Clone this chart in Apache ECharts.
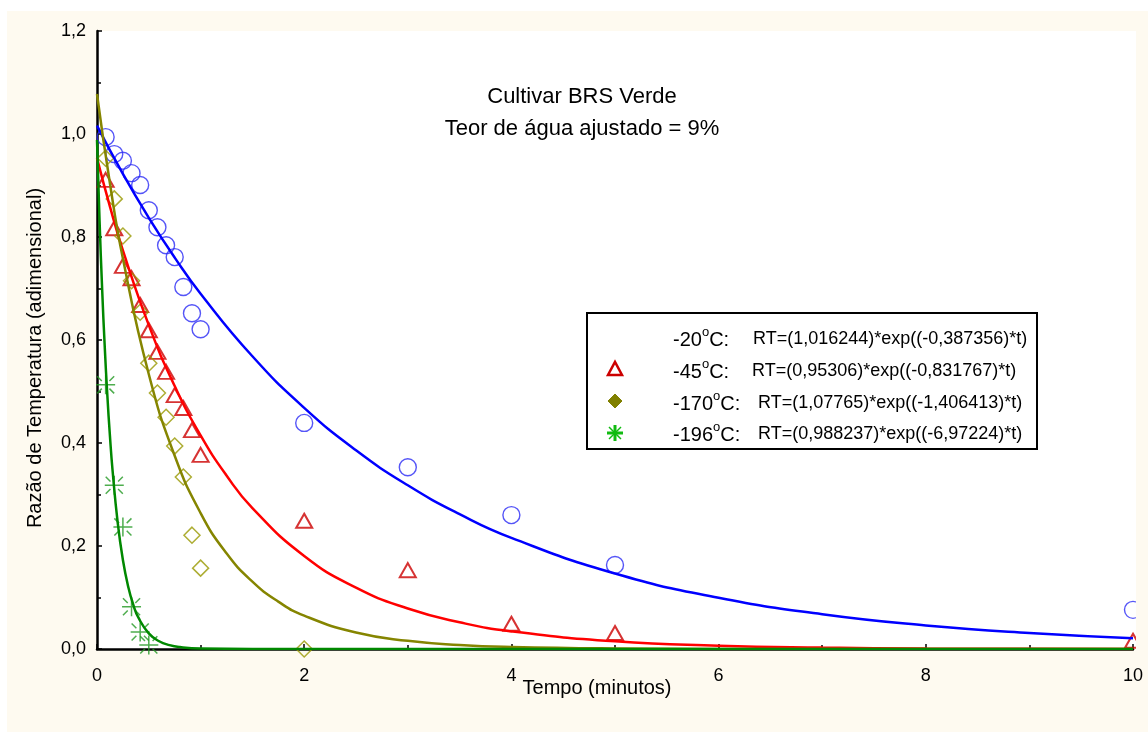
<!DOCTYPE html>
<html>
<head>
<meta charset="utf-8">
<script src="https://cdn.jsdelivr.net/npm/echarts@6/dist/echarts.min.js"></script>
<style>html,body{margin:0;padding:0;background:#fff}#c{width:1148px;height:732px}</style>
</head>
<body>
<div id="c"></div>
<script>
// Observed times (minutes)
const obsTimes = [0.0833, 0.1667, 0.25, 0.3333, 0.4167, 0.5, 0.5833, 0.6667, 0.75, 0.8333, 0.9167, 1, 2, 3, 4, 5, 10];
// Observed RT values
const obs20  = [0.994, 0.961, 0.948, 0.924, 0.901, 0.852, 0.819, 0.784, 0.761, 0.703, 0.652, 0.621, 0.439, 0.353, 0.260, 0.163, 0.076];
const obs45  = [0.911, 0.817, 0.744, 0.720, 0.668, 0.619, 0.577, 0.538, 0.493, 0.468, 0.425, 0.377, 0.249, 0.153, 0.049, 0.031, 0.016];
const obs170 = [0.953, 0.874, 0.802, 0.715, 0.654, 0.555, 0.497, 0.450, 0.394, 0.334, 0.221, 0.157, 0.000];
const obs196 = [0.513, 0.318, 0.237, 0.082, 0.033, 0.008];
// Fitted curves
const fitT20  = [0, 0.25, 0.5, 0.75, 1, 1.5, 2, 2.5, 3, 3.5, 4, 5, 6, 7, 8, 9, 10];
const fit20   = [1.0162, 0.9224, 0.8373, 0.7600, 0.6899, 0.5684, 0.4683, 0.3859, 0.3179, 0.2619, 0.2158, 0.1465, 0.0995, 0.0675, 0.0458, 0.0311, 0.0211];
const fitT45  = [0, 0.125, 0.25, 0.5, 0.75, 1, 1.25, 1.5, 2, 2.5, 3, 3.5, 4, 5, 6, 7, 8, 10];
const fit45   = [0.9531, 0.8590, 0.7741, 0.6288, 0.5107, 0.4148, 0.3370, 0.2737, 0.1806, 0.1191, 0.0786, 0.0519, 0.0342, 0.0149, 0.0065, 0.0028, 0.0012, 0.0002];
const fitT170 = [0, 0.125, 0.25, 0.5, 0.75, 1, 1.25, 1.5, 1.75, 2, 2.5, 3, 3.5, 4, 5, 6, 8, 10];
const fit170  = [1.0777, 0.9039, 0.7582, 0.5334, 0.3753, 0.2640, 0.1858, 0.1307, 0.0920, 0.0647, 0.0320, 0.0159, 0.0078, 0.0039, 0.0010, 0.0002, 0.0000, 0.0000];
const fitT196 = [0, 0.025, 0.05, 0.075, 0.1, 0.125, 0.15, 0.2, 0.25, 0.3, 0.35, 0.4, 0.5, 0.6, 0.7, 0.8, 1, 1.5, 2, 10];
const fit196  = [0.9882, 0.8302, 0.6974, 0.5858, 0.4921, 0.4134, 0.3473, 0.2451, 0.1729, 0.1220, 0.0861, 0.0608, 0.0303, 0.0151, 0.0075, 0.0037, 0.0009, 0.0000, 0.0000, 0.0000];
// Texts
const titleLines = ['Cultivar BRS Verde', 'Teor de água ajustado = 9%'];
const xName = 'Tempo (minutos)';
const yName = 'Razão de Temperatura (adimensional)';
const legendTemps = ['-20', '-45', '-170', '-196'];
const legendEqs = ['RT=(1,016244)*exp((-0,387356)*t)', 'RT=(0,95306)*exp((-0,831767)*t)', 'RT=(1,07765)*exp((-1,406413)*t)', 'RT=(0,988237)*exp((-6,97224)*t)'];

const pairs = (xs, ys) => ys.map((y, i) => [xs[i], y]);
const FONT = '"Liberation Sans", Arial, sans-serif';
const starPath = 'path://M-10,0L10,0M0,-10L0,10M4,4L9,9M-4,-4L-9,-9M4,-4L9,-9M-4,4L-9,9';

const chart = echarts.init(document.getElementById('c'), null, {renderer: 'canvas'});

const rowY = [338, 370, 402, 433];
const eqX = [753, 752, 758, 758];
const legendEls = [
  {type: 'rect', shape: {x: 587, y: 313, width: 450, height: 136}, style: {fill: '#fff', stroke: '#000', lineWidth: 2}, z: 20},
  {type: 'polygon', shape: {points: [[608, 375], [622, 375], [615, 362]]}, style: {fill: 'none', stroke: '#cc0000', lineWidth: 2.5}, z: 21},
  {type: 'polygon', shape: {points: [[615, 394], [622, 401], [615, 408], [608, 401]]}, style: {fill: '#808000', stroke: '#808000', lineWidth: 1}, z: 21},
  {type: 'line', shape: {x1: 607, y1: 433, x2: 623, y2: 433}, style: {stroke: '#11bb11', lineWidth: 3}, z: 21},
  {type: 'line', shape: {x1: 615, y1: 425, x2: 615, y2: 441}, style: {stroke: '#11bb11', lineWidth: 3}, z: 21},
  {type: 'line', shape: {x1: 609, y1: 427, x2: 621, y2: 439}, style: {stroke: '#11bb11', lineWidth: 1.5}, z: 21},
  {type: 'line', shape: {x1: 621, y1: 427, x2: 609, y2: 439}, style: {stroke: '#11bb11', lineWidth: 1.5}, z: 21}
];
legendTemps.forEach((t, i) => {
  legendEls.push({
    type: 'text', x: 673, y: rowY[i], z: 21,
    style: {
      text: '{m|' + t + '}{s|o}{m|C:}',
      verticalAlign: 'middle', align: 'left',
      rich: {
        m: {fontSize: 20, fontFamily: FONT, fill: '#000', lineHeight: 24, verticalAlign: 'bottom'},
        s: {fontSize: 13, fontFamily: FONT, fill: '#000', lineHeight: 24, verticalAlign: 'top', padding: [0, 0, 0, 0]}
      }
    }
  });
  legendEls.push({
    type: 'text', x: eqX[i], y: rowY[i] + 1, z: 21,
    style: {text: legendEqs[i], fontSize: 18, fontFamily: FONT, fill: '#000', verticalAlign: 'middle', align: 'left'}
  });
});

const option = {
  animation: false,
  backgroundColor: '#fff',
  graphic: [
    {type: 'rect', shape: {x: 7, y: 11, width: 1141, height: 721}, style: {fill: '#fefaf0'}, z: -20, silent: true},
    {type: 'rect', shape: {x: 97, y: 31, width: 1039, height: 618}, style: {fill: '#fff'}, z: -19, silent: true},
    {type: 'rect', shape: {x: 1136, y: 11, width: 12, height: 648}, style: {fill: '#fefaf0'}, z: 10, silent: true},
    {type: 'text', x: 582, y: 97, style: {text: titleLines[0], fontSize: 22, fontFamily: FONT, fill: '#000', align: 'center', verticalAlign: 'middle'}, z: 5},
    {type: 'text', x: 582, y: 129, style: {text: titleLines[1], fontSize: 22, fontFamily: FONT, fill: '#000', align: 'center', verticalAlign: 'middle'}, z: 5},
    {type: 'text', x: 597, y: 688, style: {text: xName, fontSize: 20, fontFamily: FONT, fill: '#000', align: 'center', verticalAlign: 'middle'}, z: 5},
    {type: 'text', x: 35, y: 358, rotation: Math.PI / 2, style: {text: yName, fontSize: 20, fontFamily: FONT, fill: '#000', align: 'center', verticalAlign: 'middle'}, z: 5}
  ].concat(legendEls),
  grid: {left: 97, top: 31, width: 1036, height: 618, containLabel: false},
  xAxis: {
    type: 'value', min: 0, max: 10, interval: 2,
    axisLine: {show: true, lineStyle: {color: '#000', width: 2.5}},
    axisTick: {show: true, inside: true, length: 5, lineStyle: {color: '#000', width: 1.5}},
    minorTick: {show: true, splitNumber: 2, length: 4, lineStyle: {color: '#000', width: 1.5}},
    axisLabel: {fontSize: 18, fontFamily: FONT, color: '#000', margin: 18},
    splitLine: {show: false}
  },
  yAxis: {
    type: 'value', min: 0, max: 1.2, interval: 0.2,
    axisLine: {show: true, lineStyle: {color: '#000', width: 2.5}},
    axisTick: {show: true, inside: true, length: 5, lineStyle: {color: '#000', width: 1.5}},
    minorTick: {show: true, splitNumber: 2, length: 4, lineStyle: {color: '#000', width: 1.5}},
    axisLabel: {fontSize: 18, fontFamily: FONT, color: '#000', margin: 11, formatter: v => v.toFixed(1).replace('.', ',')},
    splitLine: {show: false}
  },
  series: [
    {type: 'scatter', name: '-20', data: pairs(obsTimes, obs20), symbol: 'circle', symbolSize: 17, z: 2,
      itemStyle: {color: 'rgba(0,0,0,0)', borderColor: '#2a2af5', borderWidth: 1.4}},
    {type: 'scatter', name: '-45', data: pairs(obsTimes, obs45), symbol: 'triangle', symbolSize: [16, 14], z: 2,
      itemStyle: {color: 'rgba(0,0,0,0)', borderColor: '#cc0000', borderWidth: 2}},
    {type: 'scatter', name: '-170', data: pairs(obsTimes, obs170), symbol: 'diamond', symbolSize: [16, 16], z: 2,
      itemStyle: {color: 'rgba(0,0,0,0)', borderColor: '#999900', borderWidth: 1.5}},
    {type: 'scatter', name: '-196', data: pairs(obsTimes, obs196), symbol: starPath, symbolSize: 19, z: 2,
      itemStyle: {color: 'rgba(0,0,0,0)', borderColor: '#229922', borderWidth: 1.5}},
    {type: 'line', data: pairs(fitT20, fit20), showSymbol: false, smooth: 0.5, z: 3,
      lineStyle: {color: '#0000ff', width: 2.5}},
    {type: 'line', data: pairs(fitT45, fit45), showSymbol: false, smooth: 0.5, z: 3,
      lineStyle: {color: '#ff0000', width: 2.5}},
    {type: 'line', data: pairs(fitT170, fit170), showSymbol: false, smooth: 0.5, z: 3,
      lineStyle: {color: '#858500', width: 2.5}},
    {type: 'line', data: pairs(fitT196, fit196), showSymbol: false, smooth: 0.5, z: 3,
      lineStyle: {color: '#008800', width: 2.5}}
  ]
};
chart.setOption(option);
</script>
</body>
</html>
